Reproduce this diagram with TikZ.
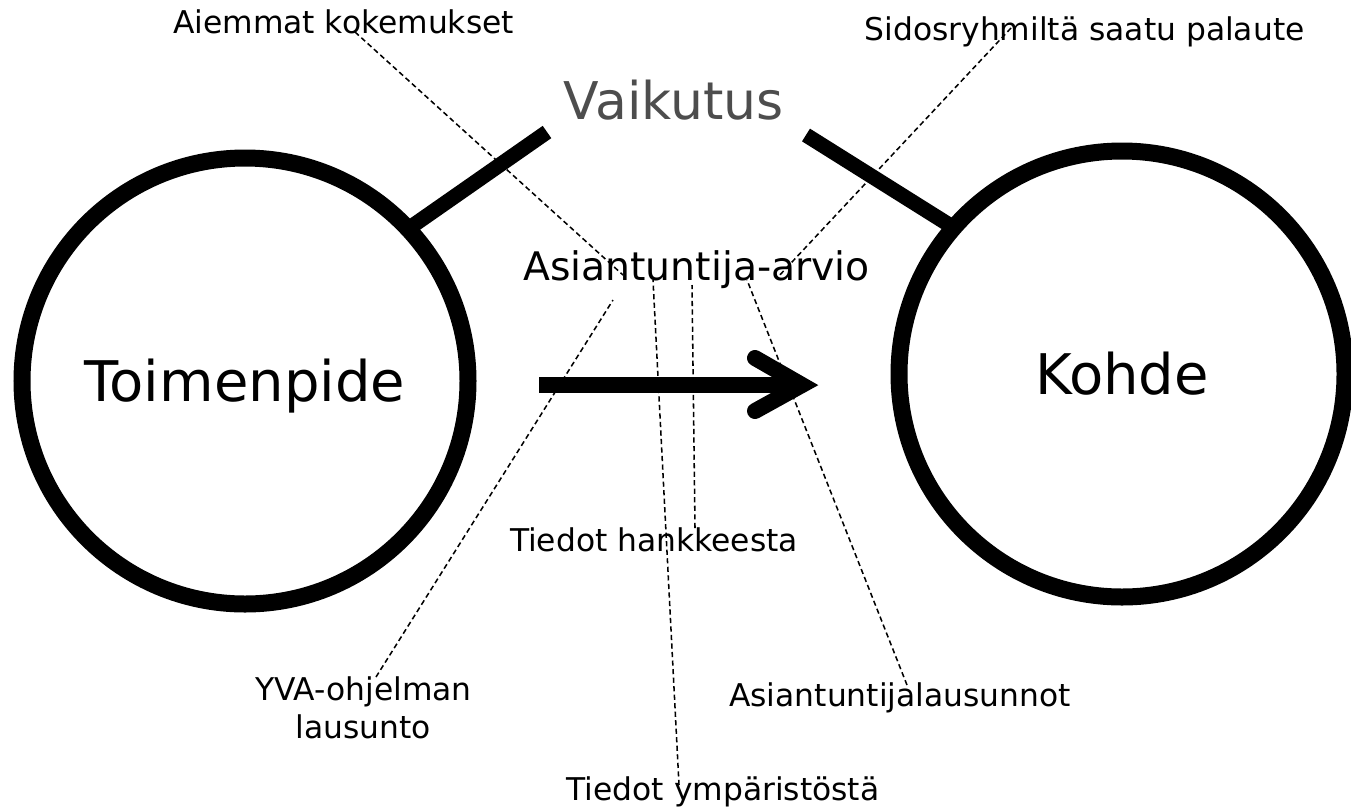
\documentclass[tikz,border=0pt]{standalone}
\usepackage{fontspec}
\setmainfont{DejaVu Sans}
\definecolor{titlegray}{RGB}{77,77,77}
\begin{document}
\begin{tikzpicture}[x=0.75pt,y=-0.75pt,
  ring/.style={draw, circle, line width=12.75pt, minimum size=334.5pt,
    inner sep=0pt, outer sep=0pt, font=\fontsize{42}{50}\selectfont,
    text height=30.7pt, text depth=0pt},
  stub/.style={line width=11.25pt},
  shaft/.style={line width=12pt},
  head/.style={line width=12pt, line cap=round, line join=miter, miter limit=10},
  lbl/.style={anchor=base, inner sep=0pt, font=\fontsize{23.5}{28.5}\selectfont},
  lead/.style={line width=1.15pt, dash pattern=on 3.9pt off 2.5pt}]
\useasboundingbox (0,0) rectangle (1351,811);

% the two circles
\node[ring] (toim) at (245,381) {Toimenpide};
\node[ring] (kohde) at (1122,374) {Kohde};

% title between the circles and its two stubs
\node[anchor=base, inner sep=0pt, text=titlegray,
  font=\fontsize{39}{46}\selectfont] (vaik) at (673.7,119.3) {Vaikutus};
\coordinate (stubL) at (547,132);
\coordinate (stubR) at (806,135);
\draw[stub] (stubL) -- (toim.43.4);
\draw[stub] (stubR) -- (kohde.139.8);

% central assessment
\node[anchor=base, inner sep=0pt, font=\fontsize{29.5}{35}\selectfont]
  (arvio) at (696.5,280) {Asiantuntija-arvio};

% sources (the two-line label is placed by its last baseline)
\node[lbl] (kok) at (343.5,33) {Aiemmat kokemukset};
\node[lbl] (sid) at (1084.6,40) {Sidosryhmiltä saatu palaute};
\node[lbl] (han) at (654,551) {Tiedot hankkeesta};
\node[lbl, align=center] (yva) at (363.5,738) {YVA-ohjelman\\lausunto};
\node[lbl] (lau) at (900,706) {Asiantuntijalausunnot};
\node[lbl] (ymp) at (723,800) {Tiedot ympäristöstä};

% leader lines from the sources to the assessment
\coordinate (kokA) at (355,32);   \coordinate (kokB) at (623,275);
\coordinate (sidA) at (1011,28);  \coordinate (sidB) at (777,278);
\coordinate (yvaA) at (376,677);  \coordinate (yvaB) at (613,300);
\coordinate (ympA) at (679,785);  \coordinate (ympB) at (653,280);
\coordinate (hanA) at (695,528);  \coordinate (hanB) at (692,285);
\coordinate (lauA) at (907,685);  \coordinate (lauB) at (747,280);
\draw[lead] (kokA) -- (kokB);
\draw[lead] (sidA) -- (sidB);
\draw[lead] (yvaA) -- (yvaB);
\draw[lead] (ympA) -- (ympB);
\draw[lead] (hanA) -- (hanB);
\draw[lead] (lauA) -- (lauB);

% the arrow from action to target
\coordinate (arS) at (539,385);
\coordinate (arV) at (802,385);
\coordinate (arU) at (755,358);
\coordinate (arD) at (755,411);
\draw[shaft] (arS) -- (arV);
\draw[head] (arU) -- (arV) -- (arD);
\end{tikzpicture}
\end{document}
